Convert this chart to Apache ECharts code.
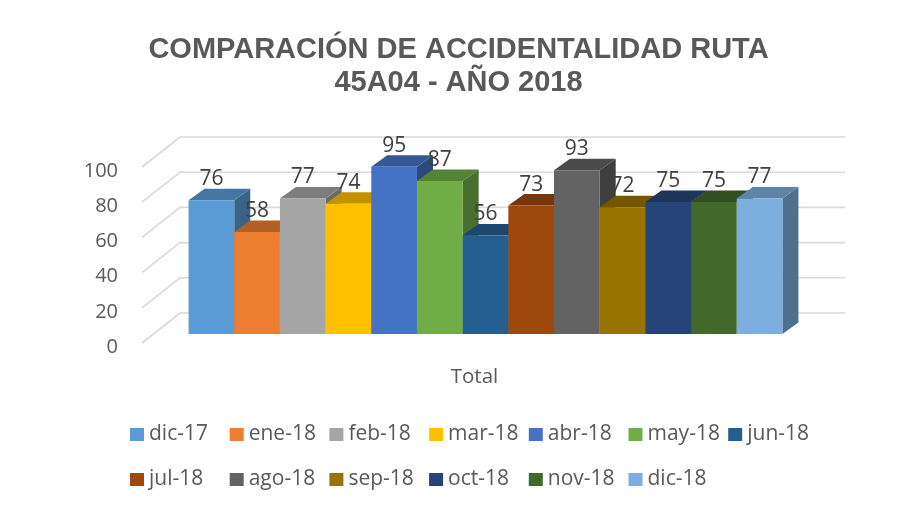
<!DOCTYPE html>
<html>
<head>
<meta charset="utf-8">
<script src="https://cdn.jsdelivr.net/npm/echarts@6/dist/echarts.min.js"></script>
<style>
  html, body { margin: 0; padding: 0; background: #ffffff; }
  #chart { width: 917px; height: 506px; }
</style>
</head>
<body>
<div id="chart"></div>
<script>
// Accident counts per month, route 45A04
const categories = ['Total'];
const months = ['dic-17', 'ene-18', 'feb-18', 'mar-18', 'abr-18', 'may-18', 'jun-18',
                'jul-18', 'ago-18', 'sep-18', 'oct-18', 'nov-18', 'dic-18'];
const totals = [76, 58, 77, 74, 95, 87, 56, 73, 93, 72, 75, 75, 77];
const colors = ['#5B9BD5', '#ED7D31', '#A5A5A5', '#FFC000', '#4472C4', '#70AD47', '#255E91',
                '#9E480E', '#636363', '#997300', '#264478', '#43682B', '#7CAFDD'];
const yTicks = [0, 20, 40, 60, 80, 100];

const FONT = '"Open Sans", "Noto Sans", sans-serif';
// oblique projection: depth of the walls and of each column, in pixels
const WALL_DEPTH = [38, -30];
const COL_FRONT = [11, -9];
const COL_DEPTH = [16, -11.5];
const GROUP_SHARE = 0.893;

function shade(hex, k) {
  const n = parseInt(hex.slice(1), 16);
  const r = Math.round(((n >> 16) & 255) * k);
  const g = Math.round(((n >> 8) & 255) * k);
  const b = Math.round((n & 255) * k);
  return 'rgb(' + r + ',' + g + ',' + b + ')';
}

// side wall + back wall gridlines
function renderWalls(params, api) {
  const cs = params.coordSys;
  const p = api.coord([api.value(0), api.value(1)]);
  const y = p[1];
  const xl = cs.x, xr = cs.x + cs.width;
  return {
    type: 'polyline',
    shape: { points: [[xl, y], [xl + WALL_DEPTH[0], y + WALL_DEPTH[1]], [xr + WALL_DEPTH[0], y + WALL_DEPTH[1]]] },
    style: { stroke: '#d9d9d9', lineWidth: 1.6, fill: null },
    silent: true
  };
}

function makeColumnRenderer(idx) {
  return function (params, api) {
    const base = api.coord([api.value(0), 0]);
    const top = api.coord([api.value(0), api.value(1)]);
    const band = api.size([1, 0])[0];
    const bw = band * GROUP_SHARE / months.length;
    const x0 = base[0] - band * GROUP_SHARE / 2 + idx * bw + COL_FRONT[0];
    const x1 = x0 + bw;
    const yb = base[1] + COL_FRONT[1];
    const yt = top[1] + COL_FRONT[1];
    const c = api.visual('color');
    const dx = COL_DEPTH[0], dy = COL_DEPTH[1];
    return {
      type: 'group',
      children: [
        { type: 'polygon', shape: { points: [[x1, yt], [x1 + dx, yt + dy], [x1 + dx, yb + dy], [x1, yb]] },
          style: { fill: shade(colors[idx], 0.64) } },
        { type: 'polygon', shape: { points: [[x0, yt], [x1, yt], [x1 + dx, yt + dy], [x0 + dx, yt + dy]] },
          style: { fill: shade(colors[idx], 0.76) } },
        { type: 'rect', shape: { x: x0, y: yt, width: bw, height: yb - yt },
          style: { fill: c } },
        { type: 'text', x: x0 + bw / 2, y: yt - 21,
          style: { text: String(api.value(1)), fill: '#404040', font: '21px ' + FONT,
                   align: 'center', verticalAlign: 'middle' } }
      ]
    };
  };
}

const series = [{
  type: 'custom',
  name: 'walls',
  renderItem: renderWalls,
  encode: { x: 0, y: 1 },
  data: yTicks.map(v => [categories[0], v]),
  silent: true,
  z: 1
}];
months.forEach((m, i) => {
  series.push({
    type: 'custom',
    name: m,
    renderItem: makeColumnRenderer(i),
    encode: { x: 0, y: 1 },
    itemStyle: { color: colors[i] },
    data: [[categories[0], totals[i]]],
    z: 2
  });
});

const legendBase = {
  orient: 'horizontal',
  left: 130,
  padding: 0,
  icon: 'rect',
  itemWidth: 14,
  itemHeight: 13,
  itemGap: 5.7,
  selectedMode: false,
  textStyle: { fontFamily: FONT, fontSize: 21, color: '#595959', width: 75, lineHeight: 20 }
};

const chart = echarts.init(document.getElementById('chart'), null, { renderer: 'canvas' });
chart.setOption({
  backgroundColor: '#ffffff',
  animation: false,
  title: {
    text: 'COMPARACIÓN DE ACCIDENTALIDAD RUTA\n45A04 - AÑO 2018',
    left: 'center',
    top: 33,
    padding: [0, 0, 0, 21],
    textStyle: { fontFamily: '"Liberation Sans", Arial, sans-serif', fontWeight: 'bold',
                 fontSize: 29, lineHeight: 33, color: '#595959' }
  },
  legend: [
    Object.assign({}, legendBase, { top: 424, data: months.slice(0, 7) }),
    Object.assign({}, legendBase, { top: 469, data: months.slice(7) })
  ],
  grid: { left: 142, right: 110, top: 167, bottom: 163, containLabel: false },
  xAxis: {
    type: 'category',
    data: categories,
    axisLine: { show: false },
    axisTick: { show: false },
    axisLabel: { fontFamily: FONT, fontSize: 20.5, color: '#595959', margin: 24 }
  },
  yAxis: {
    type: 'value',
    min: 0,
    max: 100,
    interval: 20,
    axisLine: { show: false },
    axisTick: { show: false },
    splitLine: { show: false },
    axisLabel: { fontFamily: FONT, fontSize: 20, color: '#595959', margin: 24,
                 verticalAlign: 'top', lineHeight: 8 }
  },
  series: series
});
</script>
</body>
</html>
